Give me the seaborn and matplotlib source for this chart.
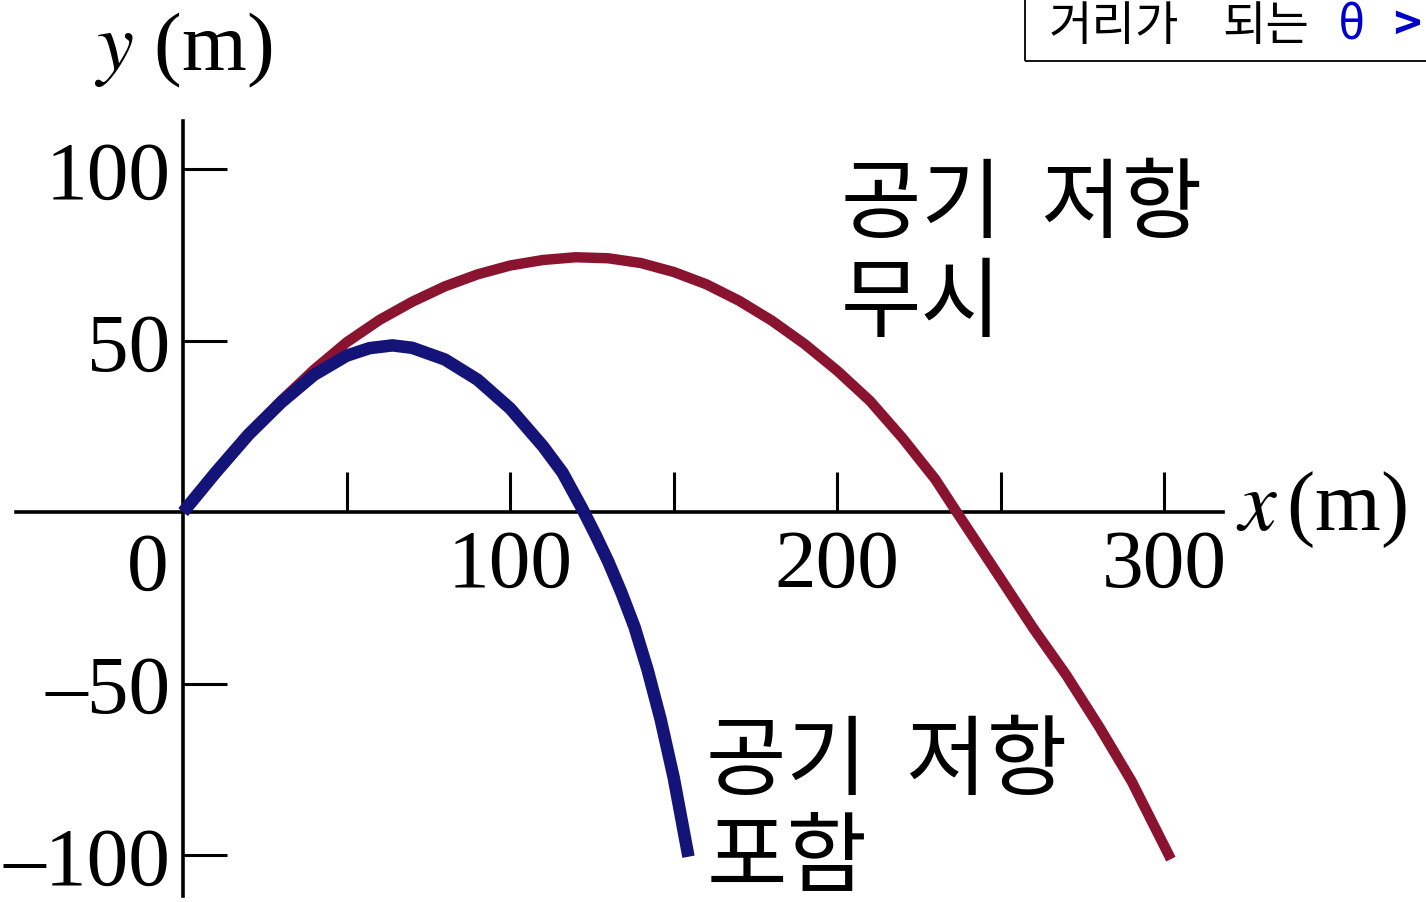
import matplotlib
matplotlib.use("Agg")
import matplotlib.pyplot as plt
from matplotlib.patches import Rectangle
import seaborn as sns
import pandas as pd

# Trajectory without air resistance (m)
free_x = [0, 10, 20, 30, 40, 50, 60, 70, 80, 90, 100, 110, 120, 130, 140, 150, 160,
          170, 180, 190, 200, 210, 220, 230, 236.5, 250, 260, 270, 280, 290, 302]
free_y = [0, 11.5, 22.5, 32.5, 41.5, 49.5, 56.0, 61.3, 65.8, 69.3, 71.9, 73.5, 74.3, 74.0,
          72.6, 70.0, 66.4, 61.6, 55.8, 49.0, 41.2, 32.4, 21.5, 9.5, 0.0, -19.5, -34.0,
          -47.5, -62.5, -78.5, -101.2]

# Trajectory with air resistance (m)
drag_x = [0, 10, 20, 30, 40, 50, 57, 64, 70, 80, 90, 100, 110, 116, 122, 126, 130,
          134, 138, 142, 146, 150, 154.5]
drag_y = [0, 11.6, 22.6, 32.0, 40.0, 45.6, 47.8, 48.6, 47.9, 44.5, 38.6, 30.2, 19.2,
          11.5, 1.0, -6.5, -14.5, -23.5, -33.5, -46.0, -60.5, -77.5, -100.5]

x_ticks = [50, 100, 150, 200, 250, 300]
x_tick_labels = ["", "100", "", "200", "", "300"]
y_ticks = [-100, -50, 50, 100]
y_tick_labels = ["\u2013100", "\u201350", "50", "100"]

label_free = "공기  저항\n무시"
label_drag = "공기  저항\n포함"
banner_words = ["거리가", "되는"]
banner_theta = "θ"
banner_gt = ">"

sns.set_theme(style="white")
plt.rcParams["font.family"] = ["Liberation Serif", "Noto Sans CJK KR", "DejaVu Sans"]
plt.rcParams["mathtext.fontset"] = "stix"
plt.rcParams["text.color"] = "black"
plt.rcParams["xtick.color"] = "black"
plt.rcParams["ytick.color"] = "black"

RED = "#8a1430"
BLUE = "#141478"

free = pd.DataFrame({"x": free_x, "y": free_y})
drag = pd.DataFrame({"x": drag_x, "y": drag_y})

fig = plt.figure(figsize=(14.26, 9.03), dpi=100)
ax = fig.add_axes([0, 0, 1, 1])
ax.set_facecolor("white")

sns.lineplot(data=free, x="x", y="y", ax=ax, color=RED, lw=7.5, sort=False,
             solid_capstyle="butt", solid_joinstyle="round", legend=False, zorder=3)
sns.lineplot(data=drag, x="x", y="y", ax=ax, color=BLUE, lw=9.0, sort=False,
             solid_capstyle="butt", solid_joinstyle="round", legend=False, zorder=4)

ax.set_xlim(-56, 380)
ax.set_ylim(-113.7, 149.6)
ax.set_xlabel("")
ax.set_ylabel("")

# Axes crossing at the origin
for side in ("top", "right"):
    ax.spines[side].set_visible(False)
for side in ("left", "bottom"):
    ax.spines[side].set_position(("data", 0))
    ax.spines[side].set_linewidth(2.6)
    ax.spines[side].set_color("black")
ax.spines["bottom"].set_bounds(-51, 318)
ax.spines["left"].set_bounds(-112, 114)

tick_font = dict(family="Liberation Serif", size=60)
ax.set_xticks(x_ticks)
ax.set_xticklabels(x_tick_labels, **tick_font)
ax.set_yticks(y_ticks)
ax.set_yticklabels(y_tick_labels, **tick_font)
ax.tick_params(axis="x", bottom=True, top=False, direction="in", length=29, width=2.2,
               pad=12, colors="black")
ax.tick_params(axis="y", left=True, right=False, direction="in", length=32, width=2.2,
               pad=9, colors="black")
ax.grid(False)

ax.text(-4.5, -16.6, "0", ha="right", va="center", **tick_font)

# Axis titles
ax.text(0, 135, "$y$ (m)", ha="center", va="center", family="Liberation Serif", size=60)
ax.text(322, 1, "$x\\,$(m)", ha="left", va="center", family="Liberation Serif", size=61)

# Curve labels
kfont = dict(family=["Noto Sans CJK KR", "DejaVu Sans"], size=63)
ax.text(201.0, 75.0, label_free, ha="left", va="center", linespacing=1.13, **kfont)
ax.text(160.0, -87.0, label_drag, ha="left", va="center", linespacing=1.1, **kfont)

# Boxed caption in the top corner
box = Rectangle((1025 / 1426, 1 - 62 / 903), 0.5, 0.2, transform=fig.transFigure,
                fill=False, ec="black", lw=1.3, clip_on=False)
fig.add_artist(box)
bfont = dict(family=["Noto Sans CJK KR", "DejaVu Sans"], size=34)
base_y = 1 - 40 / 903
fig.text(1049 / 1426, base_y, banner_words[0], ha="left", va="baseline", color="black", **bfont)
fig.text(1222 / 1426, base_y, banner_words[1], ha="left", va="baseline", color="black", **bfont)
fig.text(1338 / 1426, base_y, banner_theta, ha="left", va="baseline", color="#0000cc", **bfont)
fig.text(1393 / 1426, base_y, banner_gt, ha="left", va="baseline", color="#0000cc",
         weight="bold", **bfont)

fig.savefig("out.png", dpi=100, facecolor="white")
